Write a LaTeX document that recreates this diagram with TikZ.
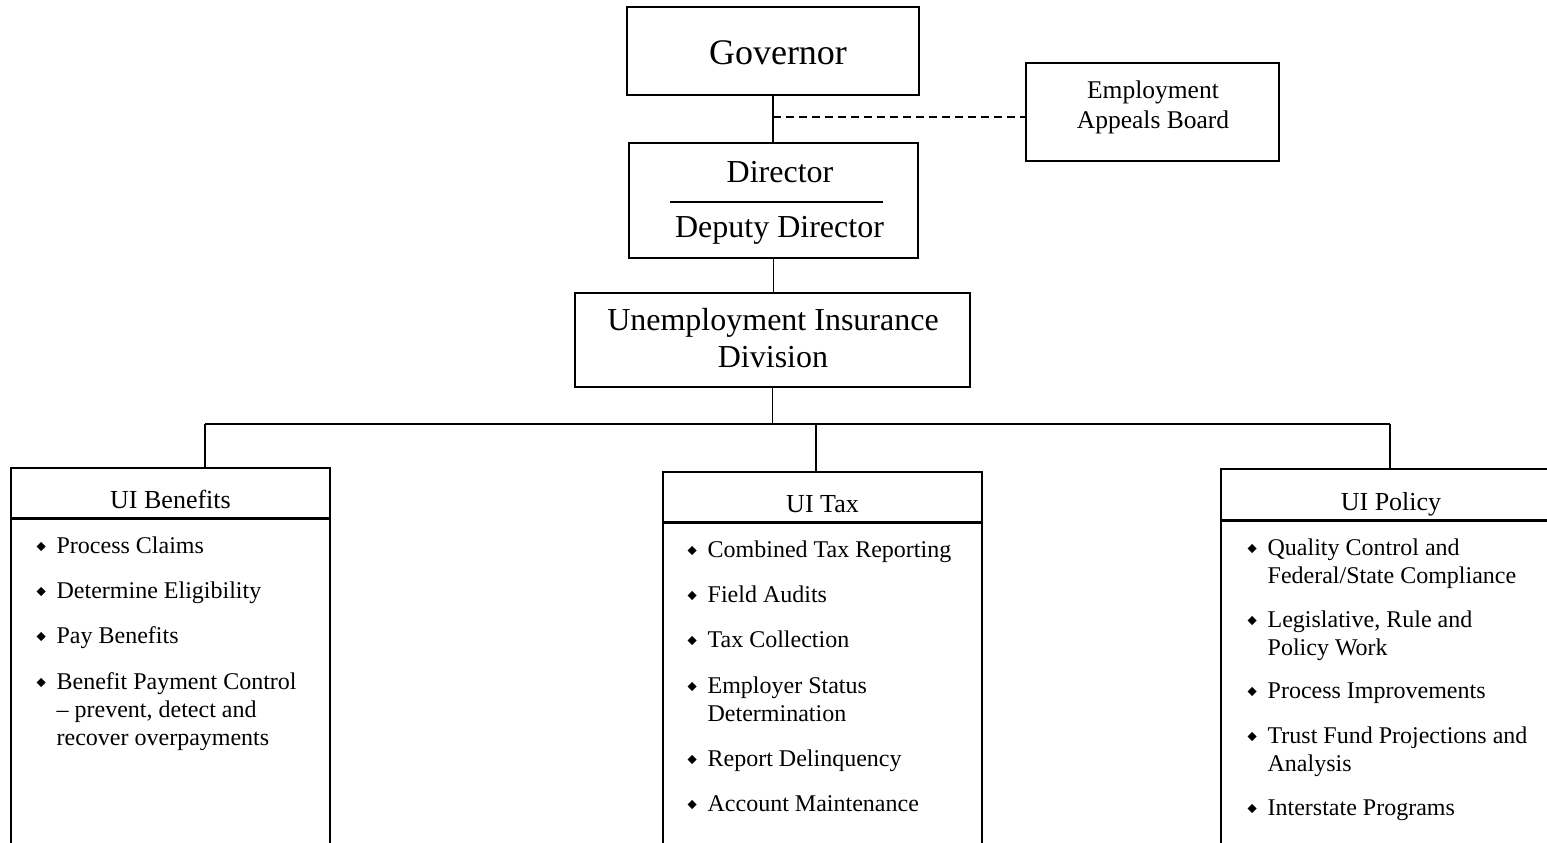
\documentclass[tikz,border=0pt]{standalone}
\usepackage{fontspec}
\setmainfont{Liberation Serif}
\usepackage{graphicx}
% bullet: small black diamond followed by the hanging indent
\newcommand\dmd{\makebox[20pt][l]{\raisebox{2pt}{\rotatebox{45}{\rule{6.4pt}{6.4pt}}}}}
% stacked lines, baseline on the first line
\newcommand\llines[1]{\begin{tabular}[t]{@{}l@{}}#1\end{tabular}}
\newcommand\clines[1]{\begin{tabular}[t]{@{}c@{}}#1\end{tabular}}
\begin{document}
\begin{tikzpicture}[x=1pt,y=-1pt,line width=1.3pt,
  box/.style={draw,inner sep=0pt},
  lbl/.style={anchor=base,inner sep=0pt},
  ttl/.style={anchor=base,inner sep=0pt,font=\fontsize{26}{30}\selectfont},
  itm/.style={anchor=base west,inner sep=0pt,font=\fontsize{24}{28}\selectfont},
  dsh/.style={dash pattern=on 8pt off 5pt}]
\useasboundingbox (0,0) rectangle (1547,843);
\clip (0,0) rectangle (1547,843);

% top of the chart
\node[box,minimum width=292pt,minimum height=88pt] (gov) at (773,51) {};
\node[lbl,font=\fontsize{36}{40}\selectfont] (govT) at (778,65) {Governor};

\node[box,minimum width=253pt,minimum height=98pt] (eab) at (1152.5,112) {};
\node[lbl,font=\fontsize{25.5}{30}\selectfont] (eabT) at (1153,98) {\clines{Employment\\Appeals Board}};

\node[box,minimum width=289pt,minimum height=115pt] (dir) at (773.5,200.5) {};
\node[lbl,font=\fontsize{32}{36}\selectfont] (dirT) at (780,182) {Director};
\node[lbl,font=\fontsize{32}{36}\selectfont] (depT) at (779.5,237) {Deputy Director};
\draw[line width=1.6pt] (670,202) -- (883,202);

\node[box,minimum width=395pt,minimum height=94pt] (uid) at (772.5,340) {};
\node[lbl,font=\fontsize{32}{37}\selectfont] (uidT) at (773,330) {\clines{Unemployment Insurance\\Division}};

% connectors
\draw (gov.south) -- (gov.south |- dir.north);
\draw[dsh] (gov.south |- 0,117) -- (eab.west |- 0,117);
\draw (dir.south) -- (dir.south |- uid.north);
\coordinate (busL) at (205,424);
\coordinate (busM) at (816,424);
\coordinate (busR) at (1390,424);
\draw (uid.south) -- (uid.south |- busL);
\draw (busL) -- (busR);

% sections
\node[box,minimum width=319pt,minimum height=50pt] (ben) at (170.5,493) {};
\node[box,minimum width=319pt,minimum height=345pt,anchor=north] (benB) at (ben.south) {};
\node[box,minimum width=319pt,minimum height=50pt] (tax) at (822.5,497) {};
\node[box,minimum width=319pt,minimum height=345pt,anchor=north] (taxB) at (tax.south) {};
\node[box,minimum width=340pt,minimum height=51pt] (pol) at (1391,494.5) {};
\node[box,minimum width=340pt,minimum height=345pt,anchor=north] (polB) at (pol.south) {};

\draw (busL) -- (busL |- ben.north);
\draw (busM) -- (busM |- tax.north);
\draw (busR) -- (busR |- pol.north);

\node[ttl] (benT) at (170.5,508) {UI Benefits};
\node[ttl] (taxT) at (822.5,512) {UI Tax};
\node[ttl] (polT) at (1391,510) {UI Policy};

% UI Benefits duties
\node[itm] (b1) at (36,553) {\dmd Process Claims};
\node[itm] (b2) at (36,598) {\dmd Determine Eligibility};
\node[itm] (b3) at (36,643) {\dmd Pay Benefits};
\node[itm] (b4) at (36,689) {\dmd\llines{Benefit Payment Control\\-- prevent, detect and\\recover overpayments}};

% UI Tax duties
\node[itm] (t1) at (687,557) {\dmd Combined Tax Reporting};
\node[itm] (t2) at (687,602) {\dmd Field Audits};
\node[itm] (t3) at (687,647) {\dmd Tax Collection};
\node[itm] (t4) at (687,693) {\dmd\llines{Employer Status\\Determination}};
\node[itm] (t5) at (687,766) {\dmd Report Delinquency};
\node[itm] (t6) at (687,811) {\dmd Account Maintenance};

% UI Policy duties
\node[itm] (p1) at (1247,555) {\dmd\llines{Quality Control and\\Federal/State Compliance}};
\node[itm] (p2) at (1247,627) {\dmd\llines{Legislative, Rule and\\Policy Work}};
\node[itm] (p3) at (1247,698) {\dmd Process Improvements};
\node[itm] (p4) at (1247,743) {\dmd\llines{Trust Fund Projections and\\Analysis}};
\node[itm] (p5) at (1247,815) {\dmd Interstate Programs};
\end{tikzpicture}
\end{document}
